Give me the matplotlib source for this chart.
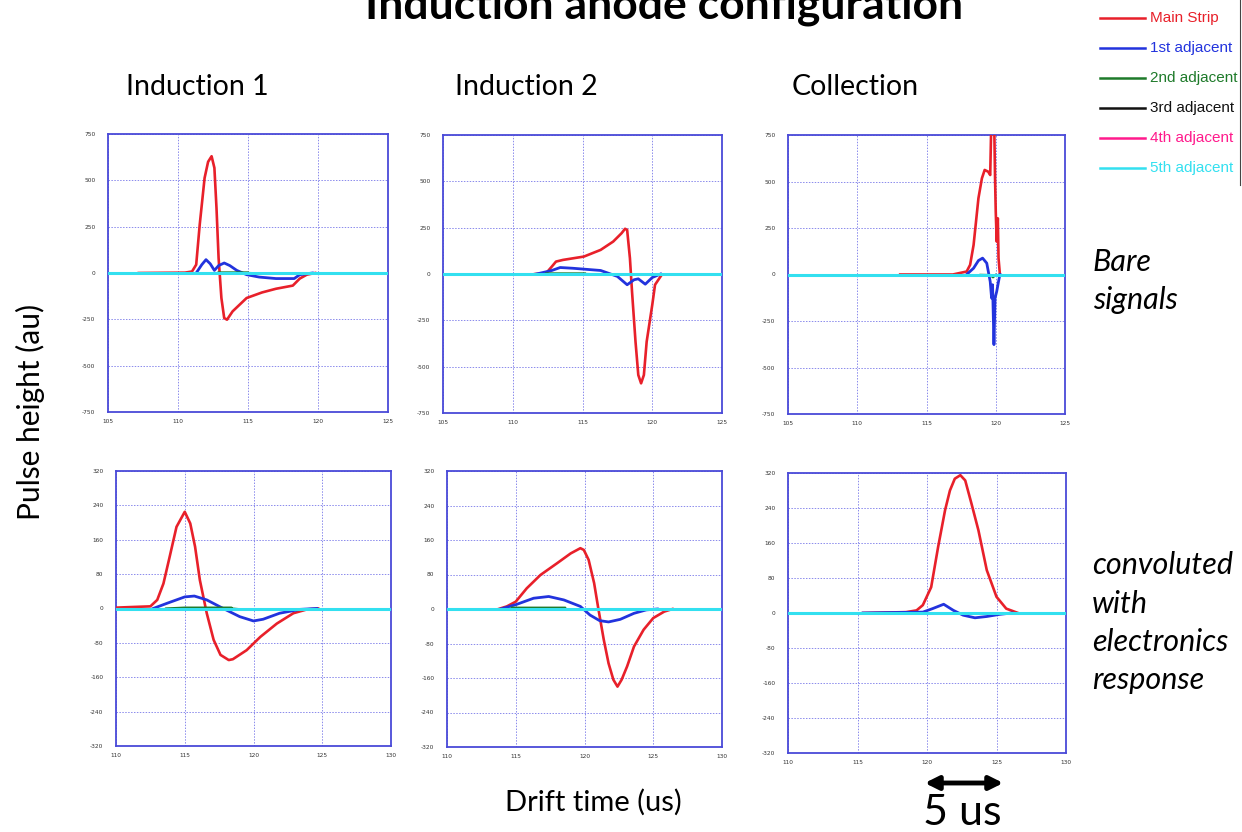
import matplotlib
matplotlib.use("Agg")
import matplotlib.pyplot as plt

W, H = 1242, 832

# ---------------- data ----------------
series_names = ["Main Strip", "1st adjacent", "2nd adjacent", "3rd adjacent", "4th adjacent", "5th adjacent"]
series_colors = ["#e8202a", "#2233dd", "#1e7a2a", "#111111", "#ff1a8c", "#33e0f0"]

col_titles = ["Induction 1", "Induction 2", "Collection"]
bare_yticks = [-750, -500, -250, 0, 250, 500, 750]
bare_xticks = [105, 110, 115, 120, 125]
conv_yticks = [-320, -240, -160, -80, 0, 80, 160, 240, 320]
conv_xticks = [110, 115, 120, 125, 130]

# Induction 1, bare
i1b_main_t = [107.2, 110.5, 111.0, 111.3, 111.55, 111.9, 112.15, 112.4, 112.6, 112.75, 112.9, 113.1, 113.3, 113.5,
              113.9, 114.9, 116.0, 117.0, 118.2, 118.7, 119.2, 119.8]
i1b_main_v = [0, 2, 8, 45, 260, 513, 600, 630, 567, 350, 80, -135, -243, -252,
              -207, -135, -105, -85, -68, -30, -9, 0]
i1b_adj1_t = [111.3, 111.7, 112.0, 112.3, 112.6, 112.9, 113.3, 113.7, 114.2, 114.9, 115.8, 117.0, 118.3, 118.7, 119.6]
i1b_adj1_v = [0, 45, 72, 50, 14, 40, 54, 40, 14, -9, -22, -30, -30, -9, 0]
i1b_adj2_t = [112.9, 115.0, 115.01, 116.3, 119.0]
i1b_adj2_v = [3, 3, 0, -3, -3]

# Induction 2, bare
i2b_main_t = [111.6, 112.4, 112.8, 113.1, 113.6, 115.1, 116.3, 117.2, 117.8, 118.05, 118.2, 118.4, 118.55, 118.8,
              119.0, 119.2, 119.4, 119.6, 120.0, 120.2, 120.6]
i2b_main_v = [0, 5, 40, 67, 76, 94, 130, 175, 220, 244, 238, 85, -95, -365,
              -545, -590, -545, -365, -167, -58, -13]
i2b_adj1_t = [111.7, 112.8, 113.4, 114.3, 116.3, 117.5, 118.2, 118.7, 119.0, 119.5, 120.0, 120.6]
i2b_adj1_v = [0, 19, 35, 31, 19, -13, -58, -31, -26, -55, -19, 0]
i2b_adj2_t = [112.4, 115.2, 115.21, 116.4, 118.9]
i2b_adj2_v = [3, 3, 0, -2, -2]

# Collection, bare
colb_main_t = [113.1, 116.9, 117.9, 118.15, 118.4, 118.75, 119.0, 119.2, 119.45, 119.6, 119.65, 119.7, 119.87,
               119.95, 120.0, 120.07, 120.15, 120.2, 120.3]
colb_main_v = [0, 0, 16, 52, 159, 410, 517, 562, 553, 535, 714, 900, 900,
               517, 338, 177, 302, 88, 0]
colb_adj1_t = [117.9, 118.4, 118.75, 119.05, 119.35, 119.6, 119.7, 119.77, 119.87, 119.95, 120.07, 120.2, 120.3]
colb_adj1_v = [0, 34, 75, 88, 61, -38, -127, -55, -377, -127, -91, -38, 0]
colb_adj2_t = [118.9, 119.6, 119.8, 120.0]
colb_adj2_v = [-2, -3, -15, -2]

# Induction 1, convoluted
i1c_main_t = [110.0, 110.8, 112.5, 113.0, 113.45, 113.9, 114.4, 115.0, 115.4, 115.75, 116.1, 116.6, 117.1, 117.6,
              118.2, 118.5, 119.5, 120.5, 121.7, 122.9, 123.9, 124.7]
i1c_main_v = [2, 3, 5, 20, 58, 120, 190, 225, 198, 144, 66, -11, -73, -108,
              -120, -118, -97, -66, -35, -11, -2, 0]
i1c_adj1_t = [112.7, 113.7, 115.0, 115.7, 116.6, 117.8, 119.0, 120.0, 120.7, 121.9, 123.4, 124.6]
i1c_adj1_v = [0, 12, 27, 29, 20, 0, -19, -29, -25, -11, -2, 0]
i1c_adj2_t = [112.4, 113.6, 113.61, 115.0, 118.4, 118.41, 119.1, 121.9]
i1c_adj2_v = [-2, -2, 0, 2, 2, 0, -2, -2]

# Induction 2, convoluted
i2c_main_t = [113.75, 114.35, 115.0, 115.8, 116.8, 118.0, 119.0, 119.7, 119.95, 120.3, 120.7, 121.0, 121.4, 121.75,
              122.1, 122.4, 122.7, 123.1, 123.6, 124.3, 125.0, 125.8, 126.4]
i2c_main_v = [0, 6, 17, 48, 79, 106, 129, 141, 137, 114, 60, 2, -71, -126,
              -164, -180, -164, -133, -87, -48, -21, -6, 0]
i2c_adj1_t = [113.9, 115.0, 116.3, 117.4, 118.5, 119.7, 120.4, 121.1, 121.75, 122.6, 123.6, 124.5, 125.3]
i2c_adj1_v = [0, 10, 25, 29, 21, 6, -14, -27, -30, -24, -10, -2, 0]
i2c_adj2_t = [114.7, 118.6, 118.61, 119.2, 123.2]
i2c_adj2_v = [3, 3, 0, -2, -2]

# Collection, convoluted
colc_main_t = [115.4, 118.5, 119.25, 119.7, 120.3, 120.8, 121.3, 121.65, 122.0, 122.4, 122.75, 123.2, 123.7,
               124.3, 125.0, 125.7, 126.55]
colc_main_v = [0, 2, 6, 18, 59, 151, 235, 280, 307, 315, 303, 250, 189,
               98, 37, 10, 0]
colc_adj1_t = [115.4, 119.7, 120.4, 121.2, 121.9, 122.6, 123.45, 124.3, 125.25, 126.1]
colc_adj1_v = [0, 2, 10, 20, 6, -5, -11, -8, -3, 0]

# ---------------- figure ----------------
fig = plt.figure(figsize=(W / 100, H / 100), dpi=100)
fig.patch.set_facecolor("white")

TXT = ["Lato", "DejaVu Sans"]
SPINE = "#4a4ad8"
GRID = "#8a8aec"


def ax_px(l, t, r, b):
    return fig.add_axes([l / W, 1 - b / H, (r - l) / W, (b - t) / H])


def style(ax, xt, yt):
    ax.set_xlim(xt[0], xt[-1])
    ax.set_ylim(yt[0], yt[-1])
    ax.set_xticks(xt)
    ax.set_yticks(yt)
    ax.set_xticklabels([str(v) for v in xt])
    ax.set_yticklabels([str(v) for v in yt])
    ax.tick_params(length=0, labelsize=4.2, colors="#333333", pad=9)
    ax.tick_params(axis="x", pad=5)
    ax.grid(True, color=GRID, linestyle=(0, (1.5, 1.5)), linewidth=0.7)
    for s in ax.spines.values():
        s.set_color(SPINE)
        s.set_linewidth(1.3)
    ax.set_axisbelow(True)


def draw(ax, xt, main, adj1, adj2):
    ax.plot(main[0], main[1], color=series_colors[0], lw=1.9, zorder=3, clip_on=True)
    ax.plot(adj1[0], adj1[1], color=series_colors[1], lw=2.0, zorder=4)
    ax.plot(adj2[0], adj2[1], color=series_colors[2], lw=1.6, zorder=4)
    ax.plot([xt[0], xt[-1]], [0, 0], color=series_colors[5], lw=2.2, zorder=5)


panels = [
    ((108, 134, 388, 412), bare_xticks, bare_yticks, (i1b_main_t, i1b_main_v), (i1b_adj1_t, i1b_adj1_v), (i1b_adj2_t, i1b_adj2_v)),
    ((443, 135, 722, 413), bare_xticks, bare_yticks, (i2b_main_t, i2b_main_v), (i2b_adj1_t, i2b_adj1_v), (i2b_adj2_t, i2b_adj2_v)),
    ((788, 135, 1065, 414), bare_xticks, bare_yticks, (colb_main_t, colb_main_v), (colb_adj1_t, colb_adj1_v), (colb_adj2_t, colb_adj2_v)),
    ((116, 471, 391, 746), conv_xticks, conv_yticks, (i1c_main_t, i1c_main_v), (i1c_adj1_t, i1c_adj1_v), (i1c_adj2_t, i1c_adj2_v)),
    ((447, 471, 722, 747), conv_xticks, conv_yticks, (i2c_main_t, i2c_main_v), (i2c_adj1_t, i2c_adj1_v), (i2c_adj2_t, i2c_adj2_v)),
    ((788, 473, 1066, 753), conv_xticks, conv_yticks, (colc_main_t, colc_main_v), (colc_adj1_t, colc_adj1_v), ([], [])),
]

for box, xt, yt, m, a1, a2 in panels:
    ax = ax_px(*box)
    style(ax, xt, yt)
    draw(ax, xt, m, a1, a2)

# ---------------- texts ----------------
fig.text(664 / W, 1 - 18 / H, "Induction anode configuration", ha="center", va="baseline",
         fontsize=32, fontweight="bold", family=TXT)
for x, t in zip([197, 526, 855], col_titles):
    fig.text(x / W, 1 - 87 / H, t, ha="center", va="center", fontsize=20.5, family=TXT)

for y, t in zip([262, 300], ["Bare", "signals"]):
    fig.text(1093 / W, 1 - y / H, t, ha="left", va="center", fontsize=22, style="italic", family=TXT)
for y, t in zip([565, 604, 642, 680], ["convoluted", "with", "electronics", "response"]):
    fig.text(1092 / W, 1 - y / H, t, ha="left", va="center", fontsize=22, style="italic", family=TXT)

fig.text(30 / W, 1 - 412 / H, "Pulse height (au)", rotation=90, ha="center", va="center", fontsize=21.5, family=TXT)
fig.text(593 / W, 1 - 802 / H, "Drift time (us)", ha="center", va="center", fontsize=21, family=TXT)
fig.text(962 / W, 1 - 813 / H, "5 us", ha="center", va="center", fontsize=31, family=TXT)
fig.add_artist(matplotlib.patches.FancyArrowPatch((922 / W, 1 - 783 / H), (1006 / W, 1 - 783 / H),
                                                  transform=fig.transFigure, arrowstyle="<|-|>",
                                                  mutation_scale=20, lw=3.5, color="black"))

# legend
leg_y = [18, 48, 78, 108, 138, 168]
for y, name, c in zip(leg_y, series_names, series_colors):
    fig.add_artist(matplotlib.lines.Line2D([1100 / W, 1145 / W], [1 - y / H, 1 - y / H],
                                           transform=fig.transFigure, color=c, lw=1.8))
    fig.text(1150 / W, 1 - y / H, name, ha="left", va="center", fontsize=11, color=c,
             family=["Liberation Sans", "DejaVu Sans"])
fig.add_artist(matplotlib.lines.Line2D([1239.5 / W, 1239.5 / W], [1, 1 - 185 / H],
                                       transform=fig.transFigure, color="#444444", lw=0.8))

fig.savefig("out.png", dpi=100)
